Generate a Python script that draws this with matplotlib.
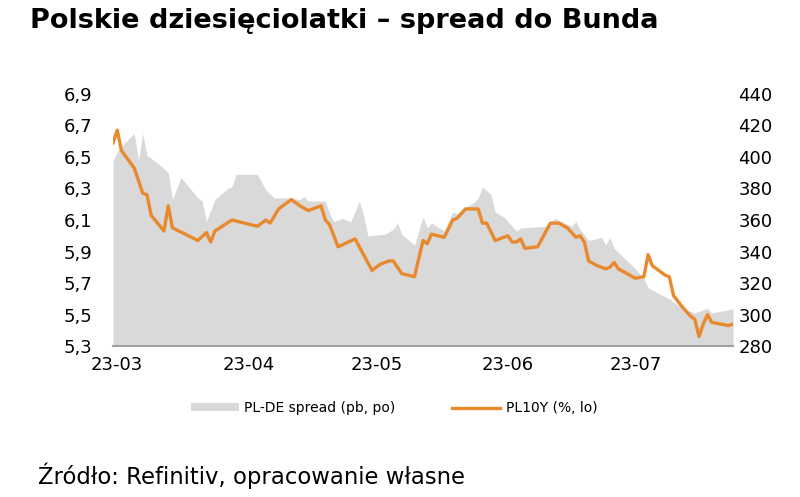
import matplotlib
matplotlib.use("Agg")
import matplotlib.pyplot as plt
import matplotlib.dates as mdates
from matplotlib.patches import Patch
from matplotlib.lines import Line2D
import pandas as pd

# PL10Y yield (%, left axis)
pl10y_dates = [
    "2023-02-28", "2023-03-01", "2023-03-02", "2023-03-05", "2023-03-07", "2023-03-08",
    "2023-03-09", "2023-03-12", "2023-03-13", "2023-03-14", "2023-03-20", "2023-03-22",
    "2023-03-23", "2023-03-24", "2023-03-28", "2023-04-03", "2023-04-05", "2023-04-06",
    "2023-04-08", "2023-04-11", "2023-04-13", "2023-04-15", "2023-04-18", "2023-04-19",
    "2023-04-20", "2023-04-22", "2023-04-26", "2023-04-30", "2023-05-02", "2023-05-04",
    "2023-05-05", "2023-05-07", "2023-05-10", "2023-05-12", "2023-05-13", "2023-05-14",
    "2023-05-17", "2023-05-19", "2023-05-20", "2023-05-22", "2023-05-25", "2023-05-26",
    "2023-05-27", "2023-05-29", "2023-06-01", "2023-06-02", "2023-06-03", "2023-06-04",
    "2023-06-05", "2023-06-08", "2023-06-11", "2023-06-13", "2023-06-15", "2023-06-17",
    "2023-06-18", "2023-06-19", "2023-06-20", "2023-06-22", "2023-06-24", "2023-06-25",
    "2023-06-26", "2023-06-27", "2023-07-01", "2023-07-03", "2023-07-04", "2023-07-05",
    "2023-07-08", "2023-07-09", "2023-07-10", "2023-07-12", "2023-07-14", "2023-07-15",
    "2023-07-16", "2023-07-17", "2023-07-18", "2023-07-19", "2023-07-21", "2023-07-23",
    "2023-07-24",
]
pl10y_values = [
    6.59, 6.67, 6.54, 6.43, 6.27, 6.26,
    6.13, 6.03, 6.19, 6.05, 5.97, 6.02,
    5.96, 6.03, 6.10, 6.06, 6.10, 6.08,
    6.17, 6.23, 6.19, 6.16, 6.19, 6.10,
    6.07, 5.93, 5.98, 5.78, 5.82, 5.84,
    5.84, 5.76, 5.74, 5.97, 5.95, 6.01,
    5.99, 6.10, 6.11, 6.17, 6.17, 6.08,
    6.08, 5.97, 6.00, 5.96, 5.96, 5.98,
    5.92, 5.93, 6.08, 6.08, 6.05, 5.99,
    6.00, 5.96, 5.84, 5.81, 5.79, 5.80,
    5.83, 5.79, 5.73, 5.74, 5.88, 5.81,
    5.75, 5.74, 5.62, 5.55, 5.49, 5.47,
    5.36, 5.44, 5.50, 5.45, 5.44, 5.43,
    5.44,
]

# PL-DE spread (pb, right axis)
spread_dates = [
    "2023-02-28", "2023-03-01", "2023-03-02", "2023-03-05", "2023-03-06", "2023-03-07",
    "2023-03-08", "2023-03-09", "2023-03-11", "2023-03-13", "2023-03-14", "2023-03-16",
    "2023-03-20", "2023-03-21", "2023-03-22", "2023-03-24", "2023-03-27", "2023-03-28",
    "2023-03-29", "2023-04-03", "2023-04-05", "2023-04-07", "2023-04-10", "2023-04-13",
    "2023-04-14", "2023-04-15", "2023-04-19", "2023-04-20", "2023-04-21", "2023-04-23",
    "2023-04-25", "2023-04-27", "2023-04-28", "2023-04-29", "2023-05-03", "2023-05-05",
    "2023-05-06", "2023-05-07", "2023-05-10", "2023-05-12", "2023-05-13", "2023-05-14",
    "2023-05-17", "2023-05-19", "2023-05-20", "2023-05-22", "2023-05-24", "2023-05-25",
    "2023-05-26", "2023-05-28", "2023-05-29", "2023-05-31", "2023-06-02", "2023-06-03",
    "2023-06-04", "2023-06-10", "2023-06-12", "2023-06-16", "2023-06-17", "2023-06-18",
    "2023-06-20", "2023-06-23", "2023-06-24", "2023-06-25", "2023-06-26", "2023-07-01",
    "2023-07-03", "2023-07-04", "2023-07-06", "2023-07-09", "2023-07-12", "2023-07-15",
    "2023-07-18", "2023-07-19", "2023-07-23", "2023-07-24",
]
spread_values = [
    398, 403, 407, 415, 398, 415,
    401, 399, 395, 390, 373, 387,
    374, 372, 359, 373, 380, 381,
    389, 389, 379, 374, 374, 373,
    375, 372, 372, 364, 359, 361,
    359, 372, 363, 350, 351, 354,
    358, 351, 344, 362, 355, 358,
    353, 365, 364, 368, 371, 374,
    381, 376, 365, 362, 356, 353,
    355, 356, 361, 356, 359, 354,
    347, 349, 344, 349, 342, 329,
    323, 317, 314, 310, 304, 301,
    304, 301, 303, 304,
]

yl_ticks = [5.3, 5.5, 5.7, 5.9, 6.1, 6.3, 6.5, 6.7, 6.9]
yr_ticks = [280, 300, 320, 340, 360, 380, 400, 420, 440]
month_ticks = ["2023-03-01", "2023-04-01", "2023-05-01", "2023-06-01", "2023-07-01"]

orange = "#e8892e"
grey = "#d9d9d9"

d_pl = pd.to_datetime(pl10y_dates)
d_sp = pd.to_datetime(spread_dates)

fig = plt.figure(figsize=(8, 4.97), dpi=100)
ax = fig.add_axes([0.14125, 0.3038, 0.775, 0.5071])
ax2 = ax.twinx()

ax2.fill_between(d_sp, 280, spread_values, color=grey, linewidth=0)
ax.plot(d_pl, pl10y_values, color=orange, linewidth=2.4)

ax.set_zorder(ax2.get_zorder() + 1)
ax.patch.set_visible(False)

ax.set_ylim(5.3, 6.9)
ax2.set_ylim(280, 440)
ax.set_xlim(d_pl[0], d_pl[-1])

ax.set_yticks(yl_ticks)
ax.set_yticklabels([f"{v:.1f}".replace(".", ",") for v in yl_ticks])
ax2.set_yticks(yr_ticks)
ax2.set_yticklabels([str(v) for v in yr_ticks])

ax.set_xticks(pd.to_datetime(month_ticks))
ax.xaxis.set_major_formatter(mdates.DateFormatter("%y-%m"))

for a in (ax, ax2):
    for s in ("top", "left", "right", "bottom"):
        a.spines[s].set_visible(False)
    a.tick_params(length=0, labelsize=13, colors="black")
ax.spines["bottom"].set_visible(True)
ax.spines["bottom"].set_color("#a0a0a0")
ax.spines["bottom"].set_linewidth(1.5)
ax.tick_params(axis="y", pad=15)
ax2.tick_params(axis="y", pad=4)
ax.tick_params(axis="x", pad=7)

handles = [
    Patch(facecolor=grey, edgecolor="none"),
    Line2D([0], [0], color=orange, linewidth=2.4),
]
fig.legend(handles, ["PL-DE spread (pb, po)", "PL10Y (%, lo)"],
           loc="center", bbox_to_anchor=(0.4925, 0.179), ncol=2, frameon=False,
           fontsize=10, handlelength=3.45, handleheight=0.5, columnspacing=4.1,
           handletextpad=0.4)

fig.text(0.0375, 0.957, "Polskie dziesięciolatki – spread do Bunda",
         fontsize=19.5, fontweight="bold", va="center", ha="left")
fig.text(0.0475, 0.042, "Źródło: Refinitiv, opracowanie własne",
         fontsize=16.4, va="center", ha="left")

fig.savefig("out.png", dpi=100)
